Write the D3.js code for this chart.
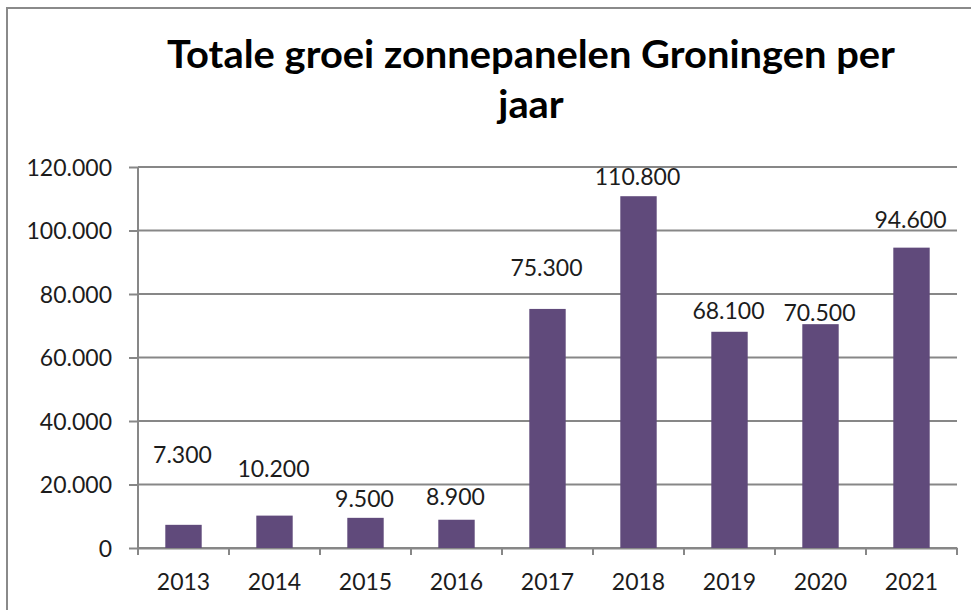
<!DOCTYPE html>
<html>
<head>
<meta charset="utf-8">
<script src="https://cdn.jsdelivr.net/npm/d3@7"></script>
<style>
  html, body { margin: 0; padding: 0; background: #fff; }
  svg { display: block; }
</style>
</head>
<body>
<svg id="chart" width="971" height="610"></svg>
<script>
// ---- data ----
const titleLines = ["Totale groei zonnepanelen Groningen per", "jaar"];
const years = ["2013", "2014", "2015", "2016", "2017", "2018", "2019", "2020", "2021"];
const growth = [7300, 10200, 9500, 8900, 75300, 110800, 68100, 70500, 94600];
const yTicks = [0, 20000, 40000, 60000, 80000, 100000, 120000];

// ---- layout (not data) ----
const labelLift = [62, 39, 11, 15, 33, 11, 13, 3, 20]; // px between bar top and label baseline
const plot = { left: 138, right: 957, top: 167, bottom: 548 };
const barColor = "#604a7b";
const lineColor = "#878787";
const textColor = "#1c1c1c";
const font = "Lato, 'Open Sans', sans-serif";

const nl = d3.formatLocale({ decimal: ",", thousands: ".", grouping: [3], currency: ["€", ""] });
const fmt = nl.format(",");

const svg = d3.select("#chart");

// frame
svg.append("rect")
  .attr("x", 7).attr("y", 8).attr("width", 1100).attr("height", 800)
  .attr("fill", "#fff").attr("stroke", "#8a8a8a").attr("stroke-width", 2);

// scales
const x = d3.scaleBand().domain(years).range([plot.left, plot.right]).padding(0);
const xBar = d3.scaleBand().domain(years).range([plot.left, plot.right])
  .paddingInner(0.6).paddingOuter(0.3);
const y = d3.scaleLinear().domain([0, 120000]).range([plot.bottom, plot.top]);

// gridlines
svg.append("g").selectAll("line").data(yTicks).join("line")
  .attr("x1", plot.left).attr("x2", plot.right)
  .attr("y1", d => y(d)).attr("y2", d => y(d))
  .attr("stroke", lineColor).attr("stroke-width", 2);

// y axis
const yAxis = svg.append("g")
  .attr("transform", `translate(${plot.left},0)`)
  .call(d3.axisLeft(y).tickValues(yTicks).tickFormat(fmt).tickSize(9).tickPadding(17).tickSizeOuter(0));
yAxis.select(".domain").attr("stroke", lineColor).attr("stroke-width", 2)
  .attr("d", `M0,${plot.top}V${plot.bottom + 7}`);
yAxis.selectAll(".tick line").attr("stroke", lineColor).attr("stroke-width", 2);
yAxis.selectAll(".tick text")
  .attr("font-family", font).attr("font-size", 23).attr("fill", textColor).attr("dy", "0.35em");

// x axis
const xAxis = svg.append("g")
  .attr("transform", `translate(0,${plot.bottom})`)
  .call(d3.axisBottom(x).tickSize(0).tickSizeOuter(0));
xAxis.select(".domain").attr("stroke", lineColor).attr("stroke-width", 2);
xAxis.selectAll(".tick text")
  .attr("font-family", font).attr("font-size", 23).attr("fill", textColor)
  .attr("y", 42).attr("dy", 0);
// category boundary ticks
const bounds = years.map(d => x(d)).concat([plot.right]);
xAxis.append("g").selectAll("line").data(bounds).join("line")
  .attr("x1", d => d).attr("x2", d => d).attr("y1", 0).attr("y2", 7)
  .attr("stroke", lineColor).attr("stroke-width", 2);

// bars
svg.append("g").selectAll("rect").data(growth).join("rect")
  .attr("x", (d, i) => xBar(years[i]))
  .attr("width", xBar.bandwidth())
  .attr("y", d => y(d))
  .attr("height", d => y(0) - y(d))
  .attr("fill", barColor);

// data labels
svg.append("g").selectAll("text").data(growth).join("text")
  .attr("x", (d, i) => x(years[i]) + x.bandwidth() / 2 - 1)
  .attr("y", (d, i) => y(d) - labelLift[i])
  .attr("text-anchor", "middle")
  .attr("font-family", font).attr("font-size", 23).attr("fill", textColor)
  .text(d => fmt(d));

// title
const titleG = svg.append("g");
const t1 = titleG.append("text")
  .attr("x", 531).attr("y", 68).attr("text-anchor", "middle")
  .attr("font-family", font).attr("font-weight", 700).attr("font-size", 39)
  .attr("fill", "#000").text(titleLines[0]);
const t2 = titleG.append("text")
  .attr("x", 531).attr("y", 118).attr("text-anchor", "middle")
  .attr("font-family", font).attr("font-weight", 700).attr("font-size", 39)
  .attr("fill", "#000").text(titleLines[1]);
const natural1 = t1.node().getComputedTextLength();
const ratio = 728 / natural1;
const natural2 = t2.node().getComputedTextLength();
t1.attr("textLength", 728).attr("lengthAdjust", "spacingAndGlyphs");
t2.attr("textLength", natural2 * ratio).attr("lengthAdjust", "spacingAndGlyphs");
</script>
</body>
</html>
